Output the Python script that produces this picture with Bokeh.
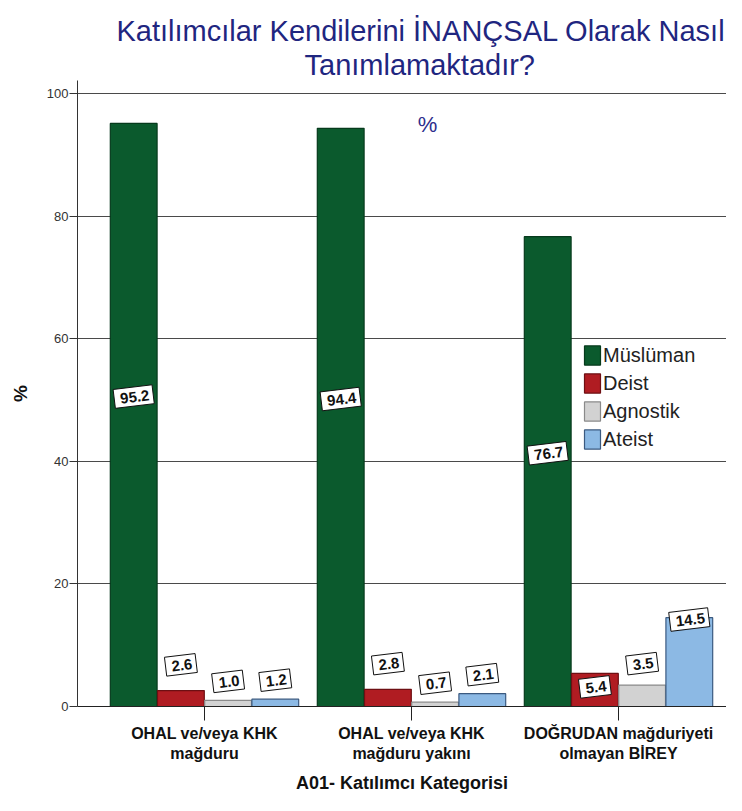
from bokeh.plotting import figure
from bokeh.models import (ColumnDataSource, Range1d, Label, Title, Legend, LegendItem,
                          FixedTicker)
from bokeh.core.properties import value
from bokeh.embed import file_html
from bokeh.resources import INLINE

title_lines = ["Katılımcılar Kendilerini İNANÇSAL Olarak Nasıl", "Tanımlamaktadır?"]
categories = ["OHAL ve/veya KHK\nmağduru", "OHAL ve/veya KHK\nmağduru yakını",
              "DOĞRUDAN mağduriyeti\nolmayan BİREY"]
series = ["Müslüman", "Deist", "Agnostik", "Ateist"]
muslim = [95.2, 94.4, 76.7]
deist = [2.6, 2.8, 5.4]
agnostic = [1.0, 0.7, 3.5]
atheist = [1.2, 2.1, 14.5]
y_ticks = [0, 20, 40, 60, 80, 100]

values = [muslim, deist, agnostic, atheist]
fills = ["#0b5a2d", "#b01c22", "#d2d2d2", "#8cb9e4"]
lines = ["#063a1c", "#6e0f13", "#8a8a8a", "#3b5a80"]
offsets = [-0.342, -0.114, 0.114, 0.342]
bar_w = 0.226
positions = list(range(1, len(categories) + 1))


def label_pos(v):
    if v > 50:
        return v / 2 + 3
    if v > 10:
        return v - 0.3
    if v > 5:
        return v - 2.2
    if v >= 3:
        return v + 3.5
    if v >= 2.5:
        return v + 4.2
    return v + 3.1


FONT = "Liberation Sans"

p = figure(width=726, height=795, output_backend="svg", toolbar_location=None,
           x_range=Range1d(0.3865, 3.5217), y_range=Range1d(0, 102.2),
           min_border_left=77, min_border_right=0, min_border_top=80,
           min_border_bottom=86)
p.outline_line_color = None
p.background_fill_color = "white"

p.add_layout(Title(text=title_lines[1], align="left", text_font=FONT,
                   text_font_size="29px", text_font_style="normal",
                   text_color="#1f2680", offset=227, standoff=0), "above")
p.add_layout(Title(text=title_lines[0], align="left", text_font=FONT,
                   text_font_size="29px", text_font_style="normal",
                   text_color="#1f2680", offset=39, standoff=0), "above")

items = []
for name, vals, fc, lc, off in zip(series, values, fills, lines, offsets):
    src = ColumnDataSource(dict(x=[c + off for c in positions], val=vals,
                                ly=[label_pos(v) for v in vals],
                                txt=[f"{v:.1f}" for v in vals]))
    r = p.vbar(x="x", top="val", width=bar_w, source=src, fill_color=fc,
               line_color=lc, line_width=1.2)
    items.append(LegendItem(label=name, renderers=[r]))
    p.text(x="x", y="ly", text="txt", source=src, text_align="center",
           text_baseline="middle", text_font=value(FONT), text_font_style="bold",
           text_font_size="15px", text_color="#111111", angle=0.12,
           background_fill_color="white", border_line_color="#111111",
           border_line_width=1, padding=(6, 4, 5, 4))

legend = Legend(items=items, location=(505, 255), glyph_width=20, glyph_height=24,
                label_text_font=FONT, label_text_font_size="20px",
                label_text_color="#222222", label_height=24, label_standoff=1,
                spacing=4, padding=4, margin=0, border_line_color=None,
                background_fill_color="white", background_fill_alpha=1.0)
p.add_layout(legend, "center")

p.add_layout(Label(x=350, y=95.0, x_units="screen", text="%", text_font=FONT,
                   text_font_size="22px", text_color="#2d2d8c", text_align="center",
                   text_baseline="middle"))

# grid
p.xgrid.grid_line_color = None
p.ygrid.ticker = FixedTicker(ticks=y_ticks)
p.ygrid.grid_line_color = "#4a4a4a"
p.ygrid.grid_line_width = 1

# y axis
p.yaxis.ticker = FixedTicker(ticks=y_ticks)
p.yaxis.axis_label = "%"
p.yaxis.axis_label_text_font = FONT
p.yaxis.axis_label_text_font_style = "bold"
p.yaxis.axis_label_text_font_size = "19px"
p.yaxis.axis_label_text_color = "#111111"
p.yaxis.axis_label_standoff = 13
p.yaxis.major_label_text_font = FONT
p.yaxis.major_label_text_font_size = "13px"
p.yaxis.major_label_text_color = "#333333"
p.yaxis.major_tick_out = 8
p.yaxis.major_tick_in = 0
p.yaxis.minor_tick_line_color = None
p.yaxis.axis_line_color = "#333333"
p.yaxis.major_tick_line_color = "#333333"
p.yaxis.major_label_standoff = 1

# x axis
p.xaxis.ticker = FixedTicker(ticks=positions)
p.xaxis.major_label_overrides = {pos: cat for pos, cat in zip(positions, categories)}
p.xaxis.minor_tick_line_color = None
p.xaxis.axis_label = "A01- Katılımcı Kategorisi"
p.xaxis.axis_label_text_font = FONT
p.xaxis.axis_label_text_font_style = "bold"
p.xaxis.axis_label_text_font_size = "18px"
p.xaxis.axis_label_text_color = "#111111"
p.xaxis.axis_label_standoff = 8
p.xaxis.major_label_text_font = FONT
p.xaxis.major_label_text_font_style = "bold"
p.xaxis.major_label_text_font_size = "16px"
p.xaxis.major_label_text_color = "#111111"
p.xaxis.major_label_orientation = "horizontal"
p.xaxis.major_tick_out = 14
p.xaxis.major_tick_in = 0
p.xaxis.major_label_standoff = 4
p.xaxis.axis_line_color = "#222222"
p.xaxis.major_tick_line_color = "#222222"

open("out.html", "w").write(file_html(p, INLINE))
